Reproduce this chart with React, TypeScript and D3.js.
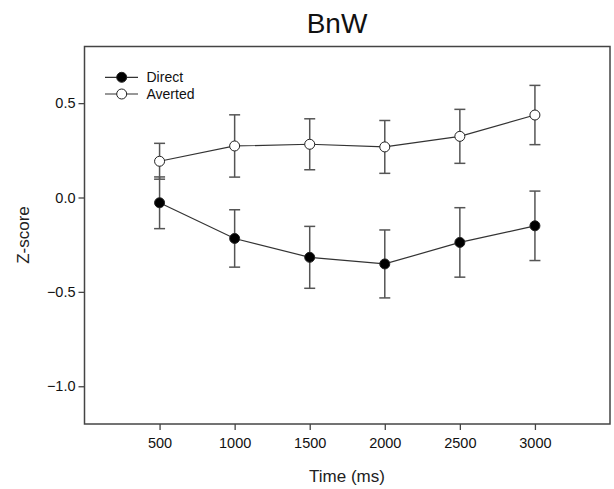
import React, { useEffect, useRef } from 'react';
import * as d3 from 'd3';

const times = [500, 1000, 1500, 2000, 2500, 3000];
const directMean = [-0.028, -0.217, -0.317, -0.352, -0.238, -0.15];
const directErr = [0.137, 0.152, 0.164, 0.18, 0.184, 0.184];
const avertedMean = [0.192, 0.273, 0.282, 0.268, 0.324, 0.437];
const avertedErr = [0.095, 0.165, 0.135, 0.14, 0.143, 0.157];
const yTicks = [-1.0, -0.5, 0.0, 0.5];
const seriesNames = ['Direct', 'Averted'];

export default function App() {
  const ref = useRef<SVGSVGElement | null>(null);

  useEffect(() => {
    document.body.style.margin = '0';
    const svg = d3.select(ref.current);
    svg.selectAll('*').remove();

    const left = 84.5, right = 610, top = 46.5, bottom = 424;
    const x = d3.scaleLinear().domain([0, 3500]).range([left, right]);
    const y = d3.scaleLinear().domain([-1.2, 0.8]).range([bottom, top]);
    const font = 'Arial, "Liberation Sans", sans-serif';

    svg.append('rect')
      .attr('width', 614).attr('height', 489).attr('fill', '#fff');

    // title
    svg.append('text')
      .attr('x', 337).attr('y', 33)
      .attr('text-anchor', 'middle')
      .style('font-family', font).style('font-size', '28px')
      .attr('fill', '#111')
      .text('BnW');

    // frame
    svg.append('rect')
      .attr('x', left).attr('y', top)
      .attr('width', right - left).attr('height', bottom - top)
      .attr('fill', 'none').attr('stroke', '#444').attr('stroke-width', 1.5);

    const yAxis = svg.append('g')
      .attr('transform', `translate(${left},0)`)
      .call(d3.axisLeft(y).tickValues(yTicks).tickFormat(d3.format('.1f')).tickSize(6).tickPadding(3));
    const xAxis = svg.append('g')
      .attr('transform', `translate(0,${bottom})`)
      .call(d3.axisBottom(x).tickValues(times).tickFormat(d3.format('d')).tickSize(6).tickPadding(8));
    [xAxis, yAxis].forEach(g => {
      g.select('.domain').remove();
      g.selectAll('line').attr('stroke', '#444').attr('stroke-width', 1.3);
      g.selectAll('text')
        .style('font-family', font).style('font-size', '14.5px')
        .attr('fill', '#111');
    });

    svg.append('text')
      .attr('x', 347).attr('y', 482)
      .attr('text-anchor', 'middle')
      .style('font-family', font).style('font-size', '17px')
      .attr('fill', '#222')
      .text('Time (ms)');
    svg.append('text')
      .attr('transform', 'translate(29,235) rotate(-90)')
      .attr('text-anchor', 'middle')
      .style('font-family', font).style('font-size', '17px')
      .attr('fill', '#222')
      .text('Z-score');

    const series = [
      { name: seriesNames[0], mean: directMean, err: directErr, fill: '#000' },
      { name: seriesNames[1], mean: avertedMean, err: avertedErr, fill: '#fff' },
    ];
    const cap = 5.5;

    series.forEach(s => {
      const g = svg.append('g');
      times.forEach((t, i) => {
        const cx = x(t);
        const y1 = y(s.mean[i] + s.err[i]);
        const y2 = y(s.mean[i] - s.err[i]);
        g.append('line').attr('x1', cx).attr('x2', cx).attr('y1', y1).attr('y2', y2)
          .attr('stroke', '#555').attr('stroke-width', 1.5);
        [y1, y2].forEach(yy => {
          g.append('line').attr('x1', cx - cap).attr('x2', cx + cap).attr('y1', yy).attr('y2', yy)
            .attr('stroke', '#555').attr('stroke-width', 1.5);
        });
      });
    });

    series.forEach(s => {
      const line = d3.line<number>().x((_, i) => x(times[i])).y(d => y(d));
      svg.append('path')
        .attr('d', line(s.mean))
        .attr('fill', 'none').attr('stroke', '#333').attr('stroke-width', 1.2);
      svg.append('g').selectAll('circle')
        .data(s.mean)
        .enter()
        .append('circle')
        .attr('cx', (_, i) => x(times[i]))
        .attr('cy', d => y(d))
        .attr('r', 5)
        .attr('fill', s.fill)
        .attr('stroke', '#222').attr('stroke-width', 1);
    });

    // legend
    series.forEach((s, i) => {
      const ly = 77.3 + i * 16.7;
      svg.append('line').attr('x1', 105).attr('x2', 138).attr('y1', ly).attr('y2', ly)
        .attr('stroke', '#333').attr('stroke-width', 1.2);
      svg.append('circle').attr('cx', 121.7).attr('cy', ly).attr('r', 5)
        .attr('fill', s.fill).attr('stroke', '#222').attr('stroke-width', 1);
      svg.append('text')
        .attr('x', 146.5).attr('y', ly + 5)
        .style('font-family', font).style('font-size', '14px')
        .attr('fill', '#111')
        .text(s.name);
    });
  }, []);

  return <svg ref={ref} width={614} height={489} style={{ display: 'block' }} />;
}
